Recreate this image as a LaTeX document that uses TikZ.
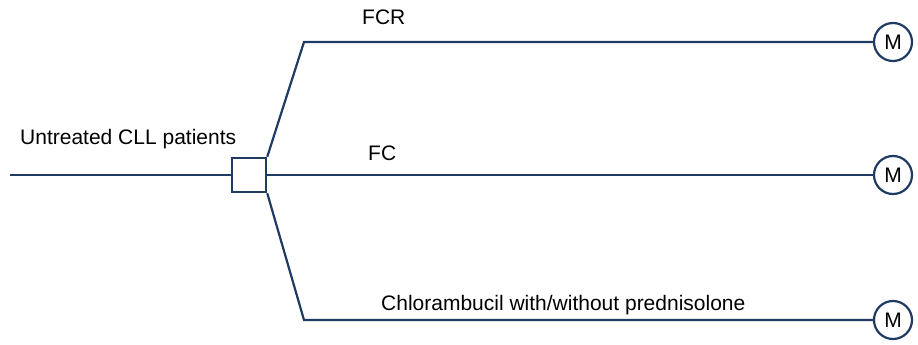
\documentclass[tikz,border=0pt]{standalone}
\usepackage{fontspec}
\setmainfont{Liberation Sans}
\definecolor{navy}{HTML}{1F3B63}
\begin{document}
\begin{tikzpicture}[x=1pt,y=-1pt,
  ln/.style={draw=navy,line width=2.2pt},
  lbl/.style={font=\fontsize{21}{24}\selectfont,text=black,inner sep=0pt},
  mnode/.style={circle,draw=navy,line width=2.2pt,fill=white,minimum size=38pt,inner sep=0pt,font=\fontsize{21}{24}\selectfont},
  rbox/.style={draw=navy,line width=2.5pt,fill=white,minimum size=34pt,inner sep=0pt}]
\useasboundingbox (0,0) rectangle (918,345);
\coordinate (start) at (10,175);
\node[rbox] (box) at (249,175) {};
\coordinate (k1) at (304,42);
\coordinate (k3) at (304,320);
\node[mnode] (m1) at (893,42) {M};
\node[mnode] (m2) at (893,175) {M};
\node[mnode] (m3) at (893,320) {M};
\draw[ln] (start) -- (box.west);
\draw[ln] (box.north east) -- (k1) -- (m1.west);
\draw[ln] (box.east) -- (m2.west);
\draw[ln] (box.south east) -- (k3) -- (m3.west);
\node[lbl,anchor=base west] (t0) at (20,144) {Untreated CLL patients};
\node[lbl,anchor=base west] (t1) at (362,25) {FCR};
\node[lbl,anchor=base west] (t2) at (368,160) {FC};
\node[lbl,anchor=base west] (t3) at (381,310) {Chlorambucil with/without prednisolone};
\end{tikzpicture}
\end{document}
